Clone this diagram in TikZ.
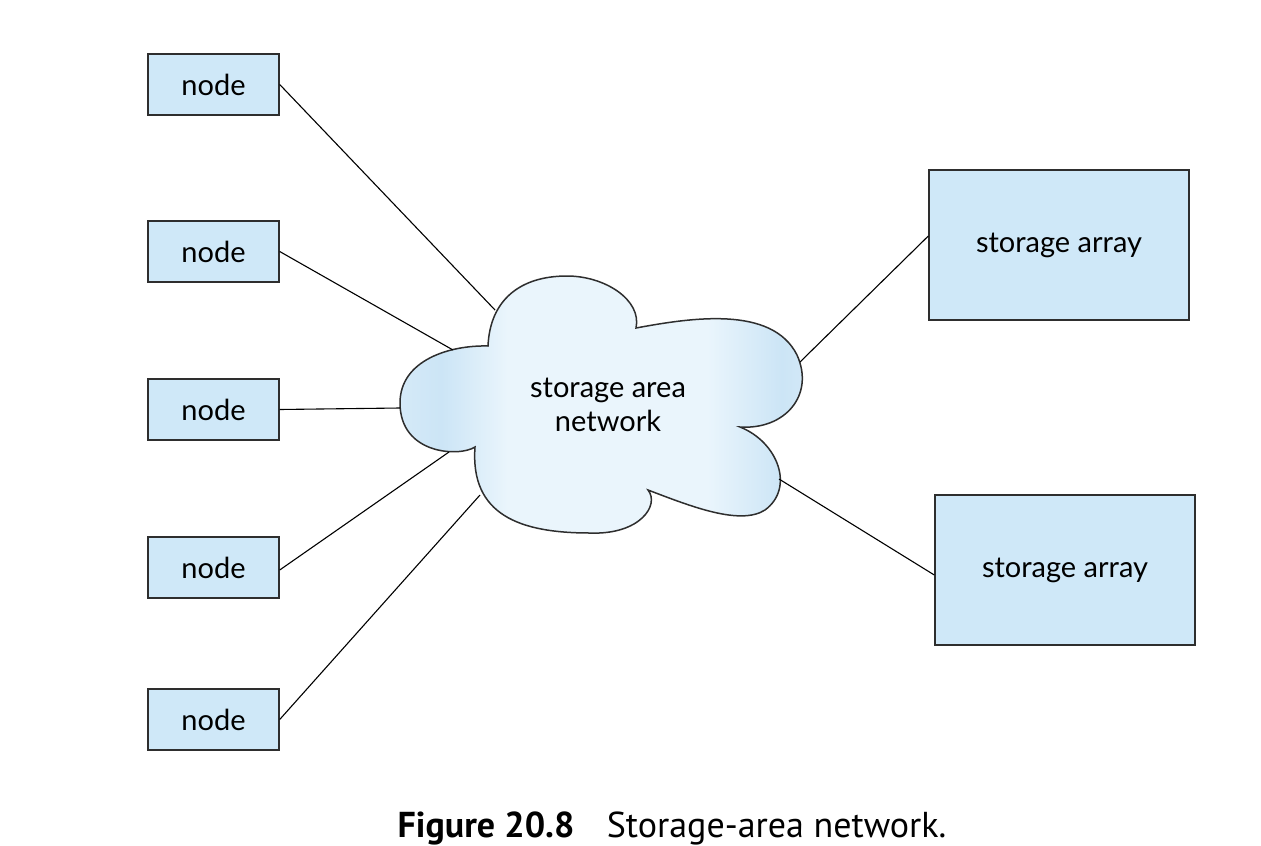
\documentclass[tikz,border=0pt]{standalone}
\usepackage{fontspec}
\usetikzlibrary{calc}
\setmainfont{Lato}
\newfontfamily\capfont{PT Sans}
\definecolor{boxfill}{HTML}{CFE8F8}
\definecolor{edgegray}{HTML}{2E2E2E}
\definecolor{cloudlight}{HTML}{EAF5FC}
\definecolor{clouddark}{HTML}{CCE5F6}
\pgfdeclarehorizontalshading{cloudshade}{100bp}{color(0bp)=(clouddark); color(25bp)=(clouddark!70!cloudlight); color(30bp)=(clouddark); color(38bp)=(cloudlight); color(62bp)=(cloudlight); color(71bp)=(clouddark); color(75bp)=(clouddark!70!cloudlight); color(100bp)=(clouddark)}
\begin{document}
\begin{tikzpicture}[x=0.5pt,y=-0.5pt,
  hostbox/.style={draw=edgegray,line width=0.7pt,fill=boxfill,minimum width=65.5pt,minimum height=30.5pt,inner sep=0pt,font=\fontsize{14.5}{16}\selectfont},
  arraybox/.style={draw=edgegray,line width=0.7pt,fill=boxfill,minimum width=130pt,minimum height=75pt,inner sep=0pt,font=\fontsize{14.5}{16}\selectfont},
  link/.style={draw=black,line width=0.55pt}]
\useasboundingbox (0,0) rectangle (1261,845);
% cloud
\path[draw=edgegray,line width=0.75pt,shading=cloudshade]
  (488,346) .. controls (490,300) and (520,276) .. (567,276)
  .. controls (605,276) and (642,300) .. (636,328)
  .. controls (690,318) and (772,305) .. (797,355)
  .. controls (815,395) and (785,430) .. (740,427)
  .. controls (778,442) and (795,488) .. (765,510)
  .. controls (740,526) and (690,506) .. (648,490)
  .. controls (660,505) and (640,535) .. (590,533)
  .. controls (520,533) and (470,515) .. (475,447)
  .. controls (460,457) and (400,455) .. (400,403)
  .. controls (400,360) and (450,345) .. (488,346) -- cycle;
\node[align=center,font=\fontsize{14.5}{17}\selectfont] (san) at (608,405) {storage area\\network};
% boundary points of the cloud
\coordinate (c1) at (495,310);
\coordinate (c2) at (453,350);
\coordinate (c3) at (400,408);
\coordinate (c4) at (449,452);
\coordinate (c5) at (480,495);
\coordinate (c6) at (800,362);
\coordinate (c7) at (779,479);
% nodes
\node[hostbox] (n1) at (213.5,84.5) {node};
\node[hostbox] (n2) at (213.5,251.5) {node};
\node[hostbox] (n3) at (213.5,409.5) {node};
\node[hostbox] (n4) at (213.5,567.5) {node};
\node[hostbox] (n5) at (213.5,719.5) {node};
\node[arraybox] (s1) at (1059,245) {storage array};
\node[arraybox] (s2) at (1065,570) {storage array};
% links
\draw[link] (n1.east) -- (c1);
\draw[link] (n2.east) -- (c2);
\draw[link] (n3.east) -- (c3);
\draw[link] ($(n4.east)+(0,2.5)$) -- (c4);
\draw[link] (n5.east) -- (c5);
\draw[link] ($(s1.west)+(0,-9)$) -- (c6);
\draw[link] ($(s2.west)+(0,5)$) -- (c7);
% caption
\node[anchor=base,font=\capfont\fontsize{18}{21}\selectfont] (cap) at (672,837) {\textbf{Figure 20.8}\hspace{0.9em}Storage-area network.};
\end{tikzpicture}
\end{document}
